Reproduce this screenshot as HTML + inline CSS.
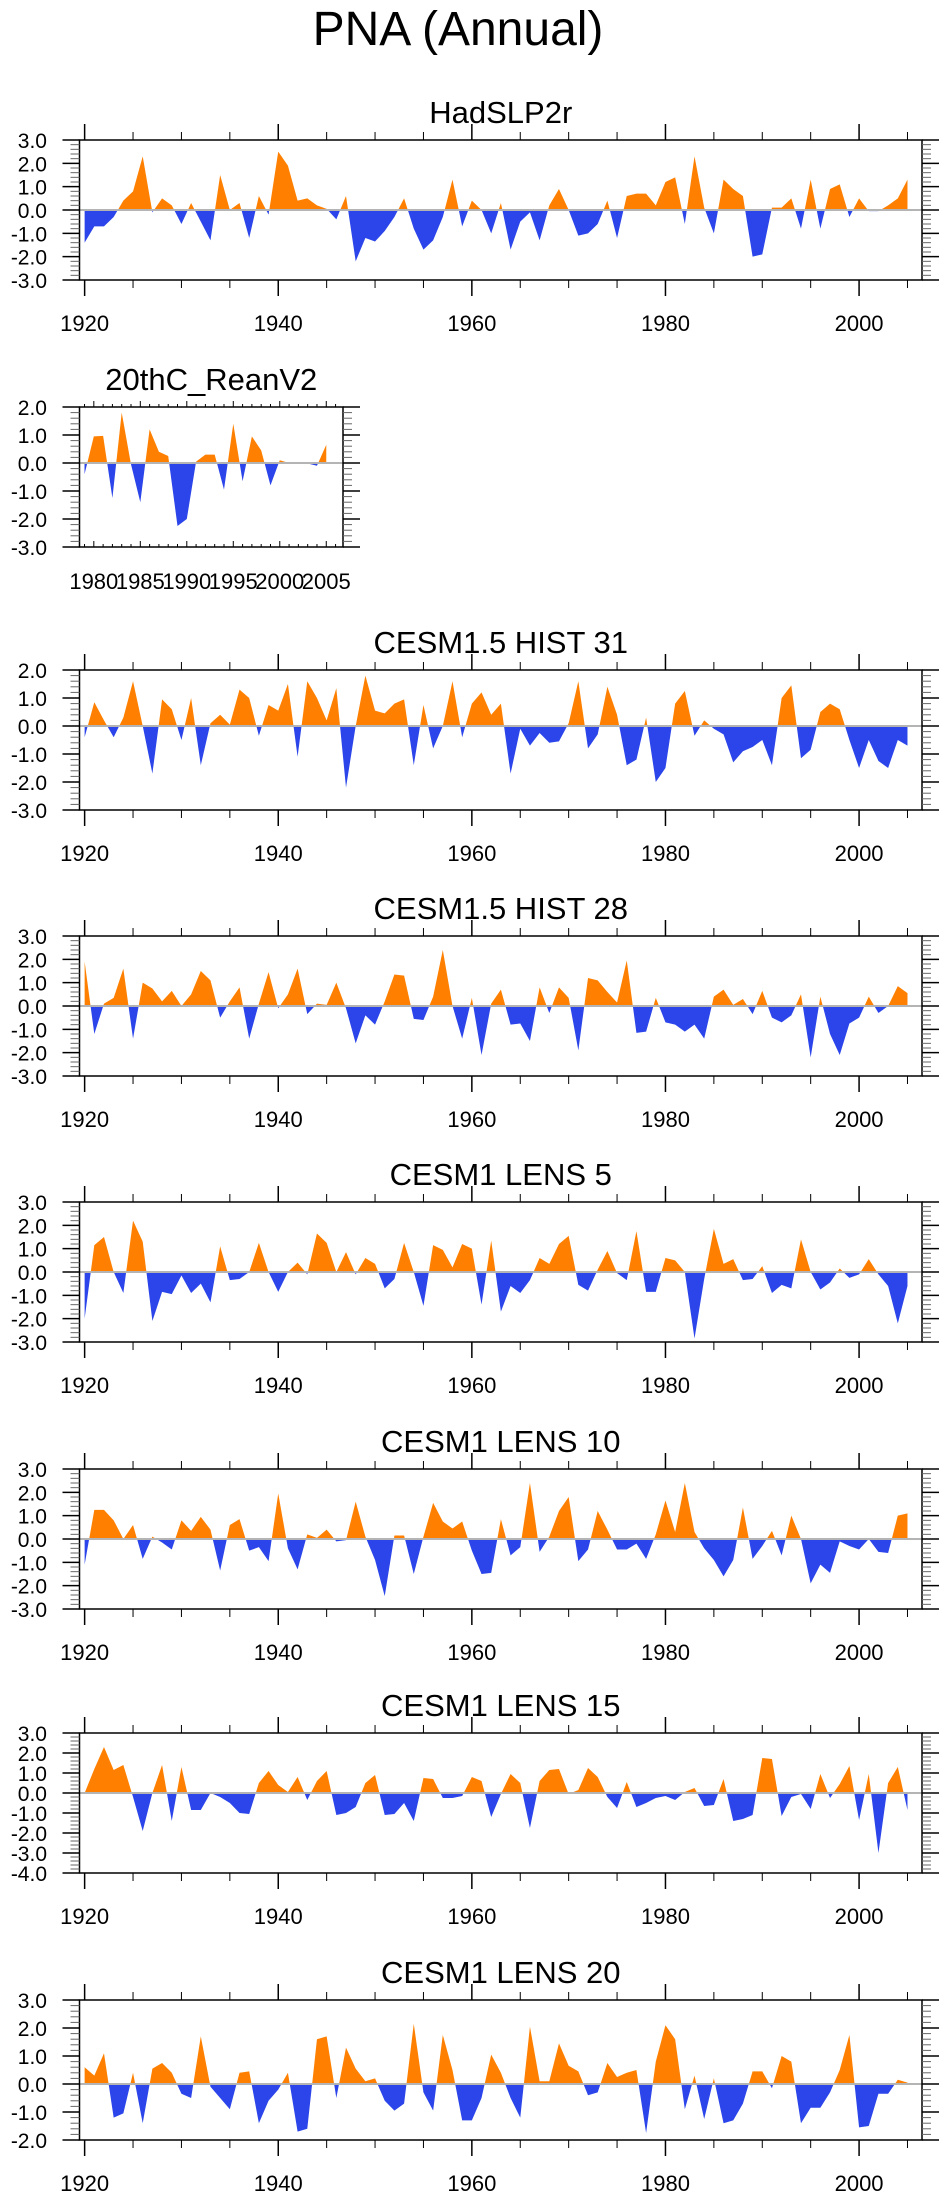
<!DOCTYPE html>
<html><head><meta charset="utf-8"><title>PNA (Annual)</title>
<style>
html,body{margin:0;padding:0;background:#fff;}
svg{display:block;font-family:"Liberation Sans",Arial,sans-serif;}
</style></head>
<body>
<svg id="chart" width="943" height="2196" viewBox="0 0 943 2196" xmlns="http://www.w3.org/2000/svg">
<text x="458" y="45" font-size="48" text-anchor="middle" fill="#000">PNA (Annual)</text>
</svg>
<script>
const years1920 = [];
for (let y = 1920; y <= 2005; y++) years1920.push(y);
const years1979 = [];
for (let y = 1979; y <= 2005; y++) years1979.push(y);

const hadslp2r = [-1.4,-0.7,-0.7,-0.3,0.4,0.8,2.3,-0.1,0.5,0.2,-0.6,0.3,-0.5,-1.3,1.5,0.0,0.3,-1.2,0.6,-0.2,
2.5,1.9,0.4,0.5,0.2,0.05,-0.4,0.6,-2.2,-1.2,-1.35,-0.9,-0.3,0.5,-0.8,-1.7,-1.3,-0.3,1.3,-0.7,
0.4,0.0,-1.0,0.3,-1.7,-0.5,-0.1,-1.3,0.2,0.9,0.0,-1.1,-1.0,-0.6,0.4,-1.2,0.6,0.7,0.7,0.2,
1.2,1.4,-0.6,2.3,0.1,-1.0,1.3,0.9,0.6,-2.0,-1.9,0.1,0.1,0.5,-0.8,1.3,-0.8,0.9,1.1,-0.3,
0.5,-0.05,-0.05,0.2,0.5,1.3];
const rean20c = [-0.4,0.95,0.97,-1.25,1.8,-0.05,-1.4,1.2,0.4,0.25,-2.25,-2.0,0.05,0.3,0.3,-0.95,1.4,-0.65,0.95,0.45,-0.8,0.1,0.0,0.02,-0.02,-0.1,0.65];
const hist31 = [-0.4,0.85,0.2,-0.4,0.3,1.6,0.0,-1.7,0.95,0.6,-0.5,1.0,-1.4,0.1,0.4,0.05,1.3,1.0,-0.35,0.75,
0.55,1.5,-1.1,1.6,1.0,0.2,1.35,-2.2,0.0,1.8,0.55,0.45,0.8,0.95,-1.4,0.75,-0.8,0.0,1.6,-0.4,
0.8,1.2,0.4,0.8,-1.7,-0.1,-0.7,-0.25,-0.6,-0.55,0.1,1.6,-0.8,-0.3,1.4,0.4,-1.4,-1.2,0.3,-2.0,
-1.5,0.8,1.25,-0.35,0.2,-0.1,-0.3,-1.3,-0.9,-0.75,-0.5,-1.4,1.0,1.45,-1.15,-0.85,0.5,0.8,0.6,-0.5,
-1.5,-0.5,-1.25,-1.5,-0.5,-0.7];
const hist28 = [1.9,-1.2,0.1,0.35,1.6,-1.4,1.0,0.75,0.2,0.65,0.0,0.5,1.5,1.1,-0.5,0.2,0.8,-1.4,0.1,1.45,
-0.1,0.5,1.6,-0.35,0.1,0.05,1.0,-0.1,-1.6,-0.4,-0.8,0.2,1.35,1.3,-0.55,-0.6,0.4,2.4,0.0,-1.4,
0.35,-2.1,0.1,0.7,-0.8,-0.75,-1.5,0.8,-0.3,0.8,0.35,-1.9,1.2,1.1,0.6,0.15,1.95,-1.15,-1.1,0.35,
-0.7,-0.8,-1.1,-0.8,-1.4,0.4,0.7,0.05,0.3,-0.35,0.65,-0.5,-0.7,-0.4,0.5,-2.2,0.4,-1.2,-2.1,-0.75,
-0.5,0.4,-0.3,0.0,0.85,0.55];
const lens5 = [-2.0,1.15,1.5,0.0,-0.9,2.2,1.3,-2.1,-0.85,-0.95,-0.15,-0.9,-0.5,-1.3,1.1,-0.35,-0.3,0.0,1.25,0.0,
-0.85,0.0,0.4,-0.1,1.65,1.25,0.0,0.85,-0.1,0.6,0.35,-0.7,-0.3,1.25,0.0,-1.45,1.15,0.95,0.2,1.2,
1.0,-1.4,1.35,-1.7,-0.6,-0.9,-0.35,0.6,0.35,1.2,1.55,-0.55,-0.8,0.1,0.9,-0.05,-0.35,1.75,-0.85,-0.85,
0.6,0.5,0.0,-2.85,-0.3,1.85,0.35,0.55,-0.35,-0.3,0.25,-0.9,-0.55,-0.7,1.4,0.0,-0.75,-0.45,0.15,-0.25,
-0.1,0.55,-0.1,-0.6,-2.2,-0.6];
const lens10 = [-1.1,1.25,1.25,0.8,0.0,0.6,-0.85,0.1,-0.15,-0.45,0.8,0.35,0.95,0.4,-1.35,0.6,0.85,-0.5,-0.35,-0.95,
1.95,-0.4,-1.3,0.2,0.05,0.4,-0.1,-0.05,1.6,0.1,-0.9,-2.45,0.15,0.15,-1.5,0.1,1.55,0.75,0.45,0.75,
-0.5,-1.5,-1.45,0.85,-0.7,-0.35,2.4,-0.55,0.1,1.2,1.8,-0.95,-0.45,1.2,0.4,-0.45,-0.45,-0.2,-0.85,0.2,
1.65,0.3,2.4,0.3,-0.4,-0.9,-1.6,-0.9,1.35,-0.85,-0.3,0.35,-0.7,1.0,0.0,-1.9,-1.1,-1.45,-0.1,-0.3,
-0.45,0.0,-0.55,-0.6,1.0,1.1];
const lens15 = [0.0,1.2,2.3,1.15,1.4,-0.2,-1.9,0.0,1.4,-1.4,1.3,-0.85,-0.85,0.0,-0.2,-0.5,-1.0,-1.05,0.5,1.1,
0.4,0.05,0.8,-0.35,0.6,1.1,-1.1,-1.0,-0.7,0.5,0.9,-1.1,-1.05,-0.5,-1.4,0.75,0.7,-0.25,-0.25,-0.15,
0.8,0.6,-1.2,-0.05,0.95,0.5,-1.75,0.6,1.15,1.2,-0.05,0.15,1.25,0.8,-0.2,-0.75,0.55,-0.7,-0.5,-0.25,
-0.15,-0.35,0.05,0.25,-0.65,-0.6,0.7,-1.4,-1.3,-1.1,1.75,1.7,-1.15,-0.2,-0.05,-0.8,0.95,-0.25,0.45,1.35,
-1.35,0.95,-3.0,0.5,1.3,-0.85];
const lens20 = [0.6,0.3,1.1,-1.2,-1.05,0.4,-1.4,0.55,0.75,0.4,-0.35,-0.5,1.7,-0.1,-0.5,-0.9,0.4,0.45,-1.4,-0.6,
-0.2,0.4,-1.7,-1.6,1.6,1.7,-0.5,1.3,0.55,0.1,0.2,-0.6,-0.95,-0.7,2.15,-0.3,-0.95,1.75,0.5,-1.3,
-1.3,-0.5,1.05,0.4,-0.5,-1.2,2.05,0.1,0.1,1.45,0.65,0.45,-0.4,-0.3,0.75,0.25,0.4,0.5,-1.75,0.8,
2.1,1.6,-0.9,0.3,-1.25,0.2,-1.4,-1.3,-0.7,0.45,0.45,-0.15,1.0,0.8,-1.4,-0.85,-0.85,-0.3,0.5,1.75,
-1.55,-1.5,-0.35,-0.35,0.15,0.05];

const titles = ["HadSLP2r","20thC_ReanV2","CESM1.5 HIST 31","CESM1.5 HIST 28","CESM1 LENS 5","CESM1 LENS 10","CESM1 LENS 15","CESM1 LENS 20"];
const seriesList = [hadslp2r, rean20c, hist31, hist28, lens5, lens10, lens15, lens20];
const yMins = [-3,-3,-3,-3,-3,-3,-4,-2];
const yMaxs = [3,2,2,3,3,3,3,3];
const yearLabels = ["1920","1940","1960","1980","2000"];
const yearLabelsShort = ["1980","1985","1990","1995","2000","2005"];

const NS = "http://www.w3.org/2000/svg";
const svg = document.getElementById("chart");
function mk(tag, attrs, parent) {
  const e = document.createElementNS(NS, tag);
  for (const k in attrs) e.setAttribute(k, attrs[k]);
  (parent || svg).appendChild(e);
  return e;
}
const tops = [140,407,670,936,1202,1469,1733,2000];
const H = 140;
const ORANGE = "#ff8000", BLUE = "#2b45ea";

seriesList.forEach((vals, i) => {
  const short = (i === 1);
  const years = short ? years1979 : years1920;
  const L = 79.5, R = short ? 343 : 922;
  const x0 = short ? 1978.46 : 1919.47, x1 = short ? 2006.8 : 2006.5;
  const top = tops[i], bot = top + H;
  const ymin = yMins[i], ymax = yMaxs[i];
  const sx = v => L + (v - x0) / (x1 - x0) * (R - L);
  const sy = v => bot - (v - ymin) / (ymax - ymin) * H;
  const g = mk("g", {});
  
  
  const cx = (L + R) / 2;
  const t = mk("text", {x: cx, y: top - 17, "font-size": 31, "text-anchor": "middle", fill: "#000"}, g);
  t.textContent = titles[i];
  
  

  // area fill
  const z = sy(0);
  let d = "M" + sx(years[0]) + "," + z;
  vals.forEach((v, k) => { d += " L" + sx(years[k]).toFixed(2) + "," + sy(v).toFixed(2); });
  d += " L" + sx(years[years.length - 1]) + "," + z + " Z";
  const cidA = "ca" + i, cidB = "cb" + i;
  const defs = mk("defs", {}, g);
  const cpA = mk("clipPath", {id: cidA}, defs);
  mk("rect", {x: L, y: top, width: R - L, height: z - top}, cpA);
  const cpB = mk("clipPath", {id: cidB}, defs);
  mk("rect", {x: L, y: z, width: R - L, height: bot - z}, cpB);
  const pa = mk("path", {d: d, fill: ORANGE, "clip-path": "url(#" + cidA + ")"}, g);
  
  
  const pb = mk("path", {d: d, fill: BLUE, "clip-path": "url(#" + cidB + ")"}, g);
  
  
  const zl = mk("line", {x1: L, x2: R, y1: z, y2: z, stroke: "#b4b4b4", "stroke-width": 2}, g);
  
  

  // frame
  const fr = mk("rect", {x: L, y: top, width: R - L, height: H, fill: "none", stroke: "#000", "stroke-width": 1.5}, g);
  
  

  // y ticks
  const nMinor = Math.round((ymax - ymin) * 5);
  for (let k = 0; k <= nMinor; k++) {
    const v = ymin + k * 0.2;
    const y = sy(v);
    const major = (k % 5 === 0);
    const len = major ? 17 : 9;
    const st = major ? "#000" : "#666";
    const sw = major ? 1.5 : 1;
    mk("line", {x1: L - len, x2: L, y1: y, y2: y, stroke: st, "stroke-width": sw}, g);
    mk("line", {x1: R, x2: R + len, y1: y, y2: y, stroke: st, "stroke-width": sw}, g);
    if (major) {
      const lab = mk("text", {x: 47, y: y + 8, "font-size": 21, "text-anchor": "end", fill: "#000"}, g);
      lab.textContent = v.toFixed(1);
      
      
    }
  }
  // x ticks
  if (!short) {
    for (let yr = 1920; yr <= 2005; yr += 5) {
      const x = sx(yr);
      const major = (yr % 20 === 0);
      const len = major ? 16 : 8;
      mk("line", {x1: x, x2: x, y1: top - len, y2: top, stroke: "#000", "stroke-width": major ? 1.5 : 1}, g);
      mk("line", {x1: x, x2: x, y1: bot, y2: bot + len, stroke: "#000", "stroke-width": major ? 1.5 : 1}, g);
    }
    yearLabels.forEach(s => {
      const lab = mk("text", {x: sx(+s), y: bot + 51, "font-size": 22, "text-anchor": "middle", fill: "#000"}, g);
      lab.textContent = s;
      
      
    });
  } else {
    for (let yr = 1979; yr <= 2006; yr++) {
      const x = sx(yr);
      const major = (yr % 5 === 0);
      const len = major ? 6 : 3;
      mk("line", {x1: x, x2: x, y1: top - len, y2: top, stroke: "#000", "stroke-width": 1}, g);
      mk("line", {x1: x, x2: x, y1: bot - len, y2: bot, stroke: "#000", "stroke-width": 1}, g);
    }
    yearLabelsShort.forEach(s => {
      const lab = mk("text", {x: sx(+s), y: bot + 42, "font-size": 22, "text-anchor": "middle", fill: "#000"}, g);
      lab.textContent = s;
      
      
    });
  }
});
</script>
</body></html>
